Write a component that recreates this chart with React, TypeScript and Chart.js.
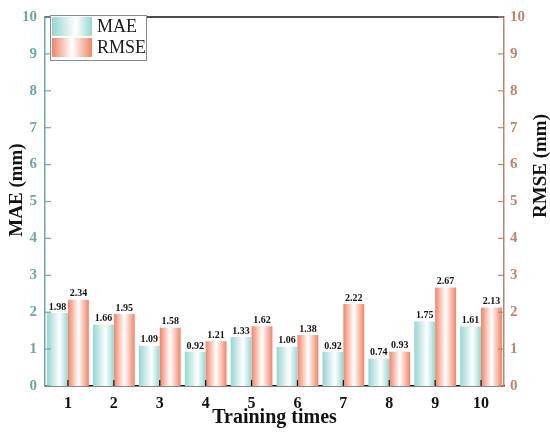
import React, { useEffect, useRef } from 'react';
import { Chart, registerables } from 'chart.js';

Chart.register(...registerables);

const labels = ['1', '2', '3', '4', '5', '6', '7', '8', '9', '10'];
const maeValues = [1.98, 1.66, 1.09, 0.92, 1.33, 1.06, 0.92, 0.74, 1.75, 1.61];
const rmseValues = [2.34, 1.95, 1.58, 1.21, 1.62, 1.38, 2.22, 0.93, 2.67, 2.13];
const yTicks = [0, 1, 2, 3, 4, 5, 6, 7, 8, 9, 10];

const SERIF = '"Liberation Serif", "Times New Roman", serif';
const TEAL = 'rgb(150, 214, 210)';
const SALMON = 'rgb(240, 132, 104)';
const LEFT_AXIS = '#6fa7a7';
const RIGHT_AXIS = '#c0836c';
const CAT_PCT = 0.91;

// horizontal gradient across a bar: colour -> white -> colour
const barGradient = (ctx: CanvasRenderingContext2D, x0: number, w: number, color: string, mid: number) => {
  const g = ctx.createLinearGradient(x0, 0, x0 + w, 0);
  g.addColorStop(0, color);
  g.addColorStop(mid, '#ffffff');
  g.addColorStop(1, color);
  return g;
};

const scriptedFill = (color: string, side: number, mid: number) => (c: any) => {
  const chart = c.chart;
  const xs = chart.scales.x;
  if (!chart.chartArea || !xs) return color;
  const center = xs.getPixelForValue(c.dataIndex);
  const barW = (xs.width / labels.length) * CAT_PCT / 2;
  const left = side === 0 ? center - barW : center;
  return barGradient(chart.ctx, left, barW, color, mid);
};

const decorPlugin = {
  id: 'decor',
  afterDatasetsDraw(chart: any) {
    const { ctx, chartArea: a } = chart;
    ctx.save();
    // value labels
    ctx.font = `bold 10px ${SERIF}`;
    ctx.fillStyle = '#111';
    ctx.textAlign = 'center';
    ctx.textBaseline = 'bottom';
    chart.data.datasets.forEach((ds: any, i: number) => {
      chart.getDatasetMeta(i).data.forEach((bar: any, j: number) => {
        ctx.fillText(ds.data[j].toFixed(2), bar.x, bar.y - 1);
      });
    });

    // top frame line
    ctx.strokeStyle = '#111';
    ctx.lineWidth = 1.5;
    ctx.beginPath();
    ctx.moveTo(a.left, a.top);
    ctx.lineTo(a.right, a.top);
    ctx.stroke();

    // inward tick marks
    const yl = chart.scales.y;
    ctx.lineWidth = 1.2;
    ctx.strokeStyle = LEFT_AXIS;
    yTicks.forEach((v) => {
      const y = yl.getPixelForValue(v);
      ctx.beginPath();
      ctx.moveTo(a.left, y);
      ctx.lineTo(a.left + 6, y);
      ctx.stroke();
    });
    const yr = chart.scales.y1;
    ctx.strokeStyle = RIGHT_AXIS;
    yTicks.forEach((v) => {
      const y = yr.getPixelForValue(v);
      ctx.beginPath();
      ctx.moveTo(a.right, y);
      ctx.lineTo(a.right - 6, y);
      ctx.stroke();
    });
    const xs = chart.scales.x;
    ctx.strokeStyle = '#111';
    labels.forEach((_l, i) => {
      const x = xs.getPixelForValue(i);
      ctx.beginPath();
      ctx.moveTo(x, a.bottom);
      ctx.lineTo(x, a.bottom - 6);
      ctx.stroke();
    });

    // axis titles, both reading bottom to top
    ctx.font = `bold 19px ${SERIF}`;
    ctx.fillStyle = '#111';
    ctx.textBaseline = 'middle';
    ctx.save();
    ctx.translate(17, 190);
    ctx.rotate(-Math.PI / 2);
    ctx.fillText('MAE (mm)', 0, 0);
    ctx.restore();
    ctx.save();
    ctx.translate(541, 166);
    ctx.rotate(-Math.PI / 2);
    ctx.fillText('RMSE (mm)', 0, 0);
    ctx.restore();

    // legend box
    const lx = 50, ly = 15, lw = 96, lh = 45;
    ctx.fillStyle = '#ffffff';
    ctx.fillRect(lx, ly, lw, lh);
    ctx.strokeStyle = '#8a8a8a';
    ctx.lineWidth = 1;
    ctx.strokeRect(lx + 0.5, ly + 0.5, lw, lh);
    const items = [
      { text: 'MAE', color: TEAL, mid: 0.6, y: 17 },
      { text: 'RMSE', color: SALMON, mid: 0.5, y: 38 },
    ];
    ctx.font = `18px ${SERIF}`;
    ctx.textAlign = 'left';
    items.forEach((it) => {
      ctx.fillStyle = barGradient(ctx, 52, 40, it.color, it.mid);
      ctx.fillRect(52, it.y, 40, 19);
      ctx.fillStyle = '#1a1a1a';
      ctx.fillText(it.text, 97, it.y + 10);
    });
    ctx.restore();
  },
};

const App: React.FC = () => {
  const chartRef = useRef<HTMLCanvasElement>(null);
  const chartInstance = useRef<Chart | null>(null);

  useEffect(() => {
    document.body.style.margin = '0';
    if (chartInstance.current) {
      chartInstance.current.destroy();
    }
    if (!chartRef.current) return;

    chartInstance.current = new Chart(chartRef.current, {
      type: 'bar',
      data: {
        labels: labels,
        datasets: [
          {
            label: 'MAE',
            data: maeValues,
            yAxisID: 'y',
            backgroundColor: scriptedFill(TEAL, 0, 0.6),
            borderWidth: 0,
          },
          {
            label: 'RMSE',
            data: rmseValues,
            yAxisID: 'y1',
            backgroundColor: scriptedFill(SALMON, 1, 0.5),
            borderWidth: 0,
          },
        ],
      },
      options: {
        responsive: false,
        animation: false,
        datasets: { bar: { categoryPercentage: CAT_PCT, barPercentage: 1 } },
        layout: { padding: { top: 14 } },
        plugins: { legend: { display: false }, tooltip: { enabled: false } },
        scales: {
          x: {
            grid: { display: false, drawTicks: false },
            border: { color: '#111', width: 1.5 },
            ticks: { color: '#111', font: { family: SERIF, size: 16, weight: 'bold' }, padding: 8 },
            title: {
              display: true,
              text: 'Training times',
              color: '#111',
              font: { family: SERIF, size: 20, weight: 'bold' },
              padding: { top: 0, bottom: 7 },
            },
            afterFit: (s: any) => { s.height = 51; },
          },
          y: {
            position: 'left',
            min: 0,
            max: 10,
            grid: { display: false, drawTicks: false },
            border: { color: LEFT_AXIS, width: 1.5 },
            ticks: { stepSize: 1, color: LEFT_AXIS, font: { family: SERIF, size: 15, weight: 'bold' }, padding: 8 },
            afterFit: (s: any) => { s.width = 45; },
          },
          y1: {
            position: 'right',
            min: 0,
            max: 10,
            grid: { display: false, drawTicks: false },
            border: { color: RIGHT_AXIS, width: 1.5 },
            ticks: { stepSize: 1, color: RIGHT_AXIS, font: { family: SERIF, size: 15, weight: 'bold' }, padding: 6 },
            afterFit: (s: any) => { s.width = 46; },
          },
        },
      },
      plugins: [decorPlugin],
    });

    return () => {
      if (chartInstance.current) {
        chartInstance.current.destroy();
        chartInstance.current = null;
      }
    };
  }, []);

  return (
    <div style={{ width: 550, height: 437, background: '#fff' }}>
      <canvas ref={chartRef} width={550} height={437}></canvas>
    </div>
  );
};

export default App;
